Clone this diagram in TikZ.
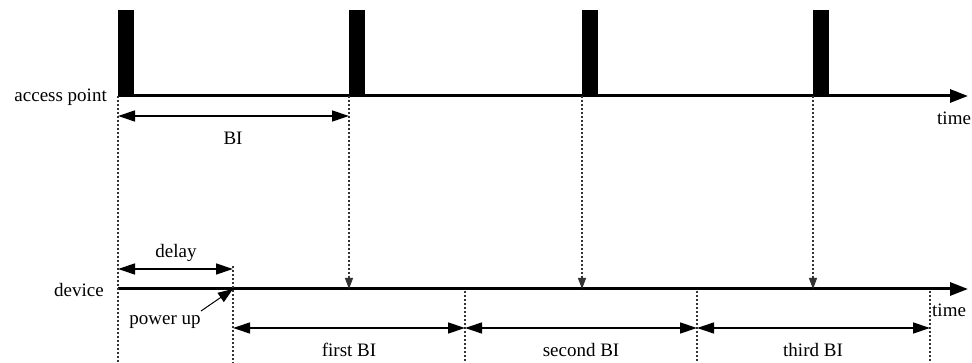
\documentclass[tikz,border=0pt]{standalone}
\usepackage{fontspec}
\setmainfont{Liberation Serif}
\usetikzlibrary{arrows.meta}
\begin{document}
\begin{tikzpicture}[x=1pt,y=-1pt,
  axis/.style={line width=3pt,-{Triangle[length=18pt,width=13pt]}},
  dim/.style={line width=1.3pt,{Triangle[length=17pt,width=11pt]}-{Triangle[length=17pt,width=11pt]}},
  guide/.style={line width=1.1pt,black!80,dash pattern=on 2pt off 2pt},
  guidearrow/.style={guide,-{Triangle[length=11pt,width=8pt]}},
  pulse/.style={fill=black},
  lbl/.style={font=\fontsize{19}{22}\selectfont,inner sep=0pt}
]
\useasboundingbox (0,0) rectangle (972,363);
% key points
\coordinate (ap0) at (118,96);
\coordinate (apEnd) at (968,96);
\coordinate (dv0) at (118,289);
\coordinate (dvEnd) at (968,289);
\coordinate (bot0) at (118,363);
% pulses
\foreach \x [count=\i] in {118,349,582,813}{
  \fill[pulse] (\x,10) rectangle (\x+16,96);
}
% axes
\draw[axis] (ap0) -- (apEnd);
\draw[axis] (dv0) -- (dvEnd);
\node[lbl,anchor=east] (aplabel) at (107,97) {access point};
\node[lbl,anchor=east] (dvlabel) at (104,290) {device};
\node[lbl,anchor=west] (time1) at (937,118) {time};
\node[lbl,anchor=west] (time2) at (932,310) {time};
% guides from pulses
\draw[guide] (ap0) -- (bot0);
\foreach \x in {349,582,813}{
  \coordinate (pt\x) at (\x,96);
  \coordinate (pd\x) at (\x,289);
  \draw[guidearrow] (pt\x) -- (pd\x);
}
% device BI markers
\coordinate (pu) at (233,289);
\coordinate (pubot) at (233,363);
\coordinate (putop) at (233,266);
\draw[guide] (putop) -- (pubot);
\foreach \x in {465,697,930}{
  \coordinate (m\x) at (\x,291);
  \coordinate (mb\x) at (\x,363);
  \draw[guide] (m\x) -- (mb\x);
}
% BI dimension
\coordinate (bia) at (118,116);
\coordinate (bib) at (349,116);
\draw[dim] (bia) -- (bib);
\node[lbl] (bilabel) at (233,138) {BI};
% delay
\coordinate (dla) at (118,269);
\coordinate (dlb) at (233,269);
\draw[dim] (dla) -- (dlb);
\node[lbl] (dllabel) at (176,253) {delay};
% power up
\node[lbl] (pulabel) at (165,322) {power up};
\coordinate (pustart) at (201,311);
\draw[line width=1pt,-{Triangle[length=15pt,width=11pt]}] (pustart) -- (pu);
% first/second/third BI
\coordinate (f0) at (233,328);
\coordinate (f1) at (465,328);
\coordinate (f2) at (697,328);
\coordinate (f3) at (930,328);
\draw[dim] (f0) -- (f1);
\draw[dim] (f1) -- (f2);
\draw[dim] (f2) -- (f3);
\node[lbl] (fl) at (349,350) {first BI};
\node[lbl] (sl) at (581,350) {second BI};
\node[lbl] (tl) at (813,350) {third BI};
\end{tikzpicture}
\end{document}
